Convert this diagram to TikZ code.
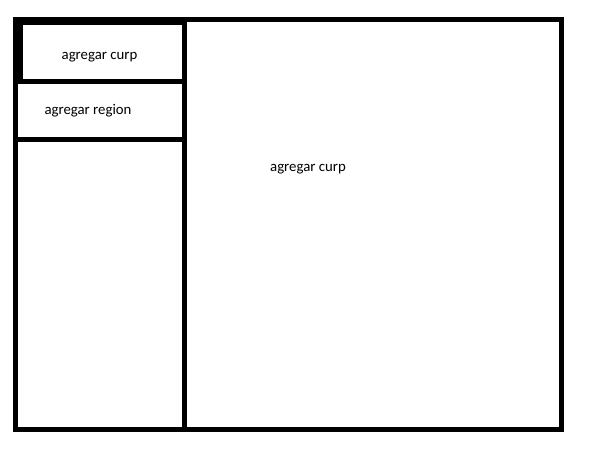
\documentclass[tikz,border=0pt]{standalone}
\usepackage{fontspec}
\setmainfont{Carlito}
\usepackage{tikz}
\tikzstyle{frame} = [draw,line width=5pt,line join=miter]
\tikzstyle{label} = [inner sep=0pt,font=\fontsize{14.8}{17}\selectfont]

\begin{document}
\begin{tikzpicture}[x=1pt,y=-1pt]

\useasboundingbox (0,0) rectangle (590,457);

\draw[frame] (15.5,19.5) rectangle (561.5,429.5);
\draw[frame] (184.5,19.5) -- (184.5,430.5);
\draw[frame] (15.5,430) -- (184.5,430);
\draw[frame] (20.5,22.5) rectangle (184.5,81.5);
\draw[frame] (15.5,140) -- (184.5,140);

\node[label] (curpbtn) at (99.5,57) {agregar curp};
\node[label] (regionbtn) at (88,111) {agregar region};
\node[label] (curpview) at (308,169) {agregar curp};

\end{tikzpicture}
\end{document}
